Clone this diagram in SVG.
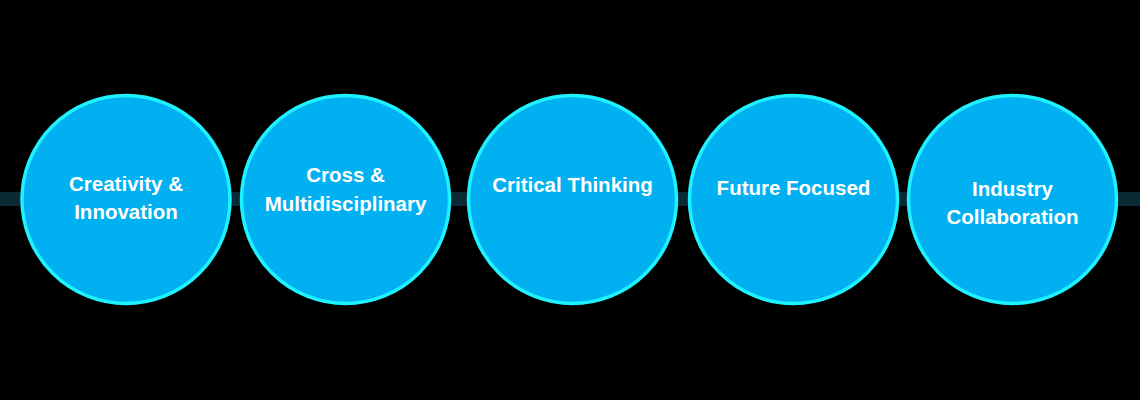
<svg xmlns="http://www.w3.org/2000/svg" width="1140" height="400" viewBox="0 0 1140 400">
<style>
.band{fill:#0a2a35}
.node circle{fill:#00b0f0;stroke:#1ff2ff;stroke-width:3.5}
.node text{font-family:"Liberation Sans",Arial,sans-serif;font-weight:bold;font-size:20.5px;fill:#ffffff;text-anchor:middle}
</style>
<rect width="1140" height="400" fill="#000000"/>
<g id="connectors">
<rect class="band" x="0" y="192" width="1140" height="14"/>
</g>
<g id="node-creativity" class="node">
<circle cx="126" cy="199.5" r="104"/>
<text x="126" y="191">Creativity &amp;</text>
<text x="126" y="219">Innovation</text>
</g>
<g id="node-cross" class="node">
<circle cx="345.5" cy="199.5" r="104"/>
<text x="345.5" y="182">Cross &amp;</text>
<text x="345.5" y="211">Multidisciplinary</text>
</g>
<g id="node-critical" class="node">
<circle cx="572.5" cy="199.5" r="104"/>
<text x="572.5" y="192">Critical Thinking</text>
</g>
<g id="node-future" class="node">
<circle cx="793.5" cy="199.5" r="104"/>
<text x="793.5" y="195">Future Focused</text>
</g>
<g id="node-industry" class="node">
<circle cx="1012.5" cy="199.5" r="104"/>
<text x="1012.5" y="196">Industry</text>
<text x="1012.5" y="224">Collaboration</text>
</g>
</svg>
